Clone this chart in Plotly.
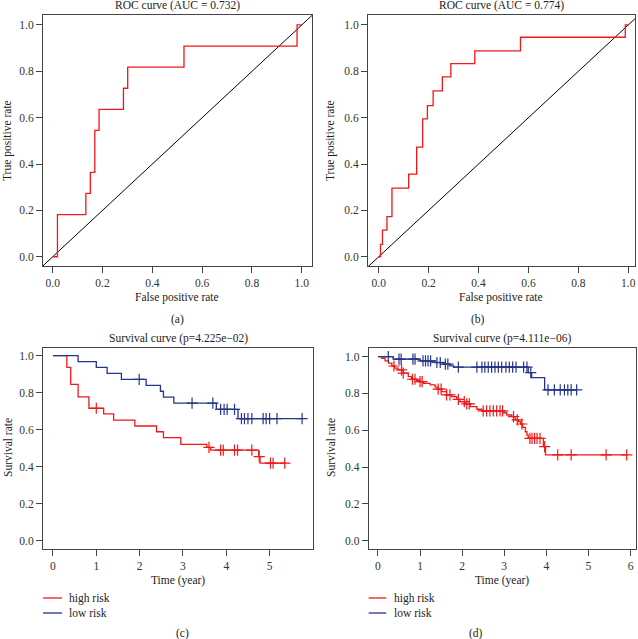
import numpy as np
import plotly.graph_objects as go
from plotly.subplots import make_subplots

# ---- data ----
# (a) ROC, AUC = 0.732
roc_a_fpr = [0.0, 0.019, 0.019, 0.133, 0.133, 0.151, 0.151, 0.169, 0.169, 0.186, 0.186,
             0.284, 0.284, 0.301, 0.301, 0.527, 0.527, 0.981, 0.981, 1.0]
roc_a_tpr = [0.0, 0.0, 0.182, 0.182, 0.273, 0.273, 0.364, 0.364, 0.545, 0.545, 0.636,
             0.636, 0.727, 0.727, 0.818, 0.818, 0.909, 0.909, 1.0, 1.0]

# (b) ROC, AUC = 0.774
roc_b_fpr = [0.0, 0.007, 0.007, 0.015, 0.015, 0.033, 0.033, 0.053, 0.053, 0.120, 0.120,
             0.152, 0.152, 0.176, 0.176, 0.195, 0.195, 0.218, 0.218, 0.255, 0.255,
             0.289, 0.289, 0.385, 0.385, 0.568, 0.568, 0.988, 0.988, 1.0]
roc_b_tpr = [0.0, 0.0, 0.053, 0.053, 0.115, 0.115, 0.173, 0.173, 0.296, 0.296, 0.356,
             0.356, 0.473, 0.473, 0.595, 0.595, 0.652, 0.652, 0.716, 0.716, 0.776,
             0.776, 0.833, 0.833, 0.888, 0.888, 0.947, 0.947, 1.0, 1.0]

# (c) Kaplan-Meier, p = 4.225e-02
c_high_t = [0, 0.32, 0.41, 0.58, 0.83, 1.17, 1.40, 1.89, 2.39, 2.55, 2.95, 3.55, 3.64, 4.75, 4.78, 5.37]
c_high_s = [1.0, 0.937, 0.845, 0.778, 0.716, 0.686, 0.652, 0.620, 0.589, 0.557, 0.521, 0.505, 0.490, 0.455, 0.419, 0.419]
c_high_cens = [1.0, 3.60, 3.87, 3.93, 4.19, 4.26, 4.59, 4.76, 5.02, 5.08, 5.35]
c_low_t = [0, 0.58, 1.0, 1.25, 1.58, 2.15, 2.48, 2.55, 2.79, 3.77, 4.27, 5.76]
c_low_s = [1.0, 0.968, 0.937, 0.904, 0.872, 0.840, 0.808, 0.776, 0.744, 0.710, 0.660, 0.660]
c_low_cens = [1.99, 3.21, 3.69, 3.87, 3.95, 4.02, 4.19, 4.35, 4.42, 4.50, 4.59, 4.85, 4.92, 5.00, 5.17, 5.75]

# (d) Kaplan-Meier, p = 4.111e-06
d_high_t = [0, 0.09, 0.17, 0.25, 0.33, 0.40, 0.48, 0.60, 0.72, 0.80, 0.92, 1.0, 1.08, 1.24,
            1.36, 1.43, 1.51, 1.63, 1.75, 1.87, 1.95, 2.07, 2.19, 2.35, 2.47, 2.99, 3.06,
            3.18, 3.26, 3.34, 3.39, 3.44, 3.50, 3.54, 3.57, 3.93, 3.98, 5.93]
d_high_s = [1.0, 0.991, 0.977, 0.964, 0.949, 0.937, 0.928, 0.910, 0.891, 0.877, 0.870, 0.864,
            0.855, 0.846, 0.834, 0.823, 0.810, 0.792, 0.783, 0.768, 0.755, 0.743, 0.728,
            0.714, 0.705, 0.695, 0.683, 0.674, 0.656, 0.647, 0.634, 0.616, 0.592, 0.574,
            0.556, 0.511, 0.466, 0.466]
d_high_cens = [0.38, 0.56, 0.60, 0.82, 0.88, 1.0, 1.05, 1.43, 1.50, 1.63, 1.71, 1.91, 2.05,
               2.11, 2.17, 2.50, 2.58, 2.66, 2.74, 2.82, 2.90, 2.96, 3.22, 3.31, 3.42, 3.61,
               3.66, 3.72, 3.78, 3.85, 3.96, 4.27, 4.59, 5.42, 5.91]
d_low_t = [0, 0.36, 1.0, 1.35, 1.55, 1.70, 1.80, 3.57, 3.65, 3.96, 4.73]
d_low_s = [1.0, 0.986, 0.977, 0.968, 0.959, 0.950, 0.943, 0.913, 0.886, 0.819, 0.819]
d_low_cens = [0.245, 0.50, 0.55, 0.83, 0.88, 1.07, 1.13, 1.19, 1.25, 1.40, 1.48, 1.60, 1.66,
              1.91, 2.35, 2.47, 2.54, 2.62, 2.70, 2.78, 2.86, 2.94, 3.04, 3.12, 3.20, 3.28,
              3.46, 3.54, 3.63, 4.04, 4.19, 4.33, 4.43, 4.51, 4.59, 4.72]

diag = [-1, 2]

RED = "#f01818"
BLUE = "#26348a"
FRAME = "#444444"
FONT = "Liberation Serif"


def step_value(times, surv, t):
    # survival value of the step curve at time t
    idx = np.searchsorted(np.array(times), t, side="right") - 1
    return surv[max(idx, 0)]


fig = make_subplots(rows=2, cols=2)

# ROC panels
for (fpr, tpr), col in [((roc_a_fpr, roc_a_tpr), 1), ((roc_b_fpr, roc_b_tpr), 2)]:
    fig.add_trace(go.Scatter(x=diag, y=diag, mode="lines",
                             line=dict(color="black", width=1), showlegend=False),
                  row=1, col=col)
    fig.add_trace(go.Scatter(x=fpr, y=tpr, mode="lines",
                             line=dict(color=RED, width=1.3), showlegend=False),
                  row=1, col=col)

# survival panels
km = [
    (1, c_high_t, c_high_s, c_high_cens, RED),
    (1, c_low_t, c_low_s, c_low_cens, BLUE),
    (2, d_high_t, d_high_s, d_high_cens, RED),
    (2, d_low_t, d_low_s, d_low_cens, BLUE),
]
for col, t, s, cens, colr in km:
    fig.add_trace(go.Scatter(x=t, y=s, mode="lines", line_shape="hv",
                             line=dict(color=colr, width=1.3), showlegend=False),
                  row=2, col=col)
    fig.add_trace(go.Scatter(x=cens, y=[step_value(t, s, c) for c in cens], mode="markers",
                             marker=dict(symbol="cross-thin", size=8,
                                         line=dict(color=colr, width=1.2)),
                             showlegend=False),
                  row=2, col=col)

W, H = 638, 639


def px(x):
    return x / W


def py(y):
    return 1 - y / H


axis_common = dict(showline=True, mirror=True, linecolor=FRAME, linewidth=1,
                   ticks="outside", ticklen=6, tickwidth=1, tickcolor=FRAME,
                   showgrid=False, zeroline=False,
                   tickfont=dict(family=FONT, size=11.5, color="#333333"))

frac = [0, 0.2, 0.4, 0.6, 0.8, 1.0]
frac_lab = ["0.0", "0.2", "0.4", "0.6", "0.8", "1.0"]

# (a)
fig.update_xaxes(axis_common, domain=[px(43), px(312)], range=[-0.039, 1.041],
                 tickvals=frac, ticktext=frac_lab, row=1, col=1)
fig.update_yaxes(axis_common, domain=[py(266), py(15)], range=[-0.04, 1.043],
                 tickvals=frac, ticktext=frac_lab, row=1, col=1)
# (b)
fig.update_xaxes(axis_common, domain=[px(368), px(635)], range=[-0.043, 1.027],
                 tickvals=frac, ticktext=frac_lab, row=1, col=2)
fig.update_yaxes(axis_common, domain=[py(266), py(15)], range=[-0.04, 1.043],
                 tickvals=frac, ticktext=frac_lab, row=1, col=2)
# (c)
fig.update_xaxes(axis_common, domain=[px(43), px(312.5)], range=[-0.23, 5.99],
                 tickvals=[0, 1, 2, 3, 4, 5], row=2, col=1)
fig.update_yaxes(axis_common, domain=[py(548.7), py(348.3)], range=[-0.043, 1.04],
                 tickvals=frac, ticktext=frac_lab, row=2, col=1)
# (d)
fig.update_xaxes(axis_common, domain=[px(368.7), px(636)], range=[-0.22, 6.13],
                 tickvals=[0, 1, 2, 3, 4, 5, 6], row=2, col=2)
fig.update_yaxes(axis_common, domain=[py(548.7), py(348.3)], range=[-0.043, 1.045],
                 tickvals=frac, ticktext=frac_lab, row=2, col=2)

texts = [
    ("ROC curve (AUC = 0.732)", 177, 5, 0),
    ("ROC curve (AUC = 0.774)", 501, 5, 0),
    ("False positive rate", 177, 297, 0),
    ("False positive rate", 501, 297, 0),
    ("True positive rate", 8, 141, -90),
    ("True positive rate", 331, 141, -90),
    ("(a)", 177, 319, 0),
    ("(b)", 478, 319, 0),
    ("Survival curve (p=4.225e\u221202)", 178, 338, 0),
    ("Survival curve (p=4.111e\u221206)", 502, 338, 0),
    ("Time (year)", 178, 580, 0),
    ("Time (year)", 502, 580, 0),
    ("Survival rate", 8, 448, -90),
    ("Survival rate", 331, 448, -90),
    ("(c)", 182, 633, 0),
    ("(d)", 476, 633, 0),
]
annotations = []
for txt, x, y, ang in texts:
    annotations.append(dict(text=txt, x=px(x), y=py(y), xref="paper", yref="paper",
                            xanchor="center", yanchor="middle", showarrow=False,
                            textangle=ang, font=dict(family=FONT, size=11.5, color="#222222")))

# legends for the survival panels
shapes = []
for x0, x1, xt in [(43, 62, 67), (368.7, 386.3, 392)]:
    for label, colr, y in [("high risk", RED, 598), ("low risk", BLUE, 613)]:
        shapes.append(dict(type="line", xref="paper", yref="paper",
                           x0=px(x0), x1=px(x1), y0=py(y), y1=py(y),
                           line=dict(color=colr, width=1.3)))
        annotations.append(dict(text=label, x=px(xt), y=py(y), xref="paper", yref="paper",
                                xanchor="left", yanchor="middle", showarrow=False,
                                font=dict(family=FONT, size=11.5, color="#222222")))

fig.update_layout(width=W, height=H, margin=dict(l=0, r=0, t=0, b=0),
                  plot_bgcolor="white", paper_bgcolor="white",
                  annotations=annotations, shapes=shapes, showlegend=False,
                  font=dict(family=FONT))

# the page's default body margin would push the figure 8px off the window
fig.write_html("out.html", config={"displayModeBar": False},
               post_script="document.body.style.margin='0';")
